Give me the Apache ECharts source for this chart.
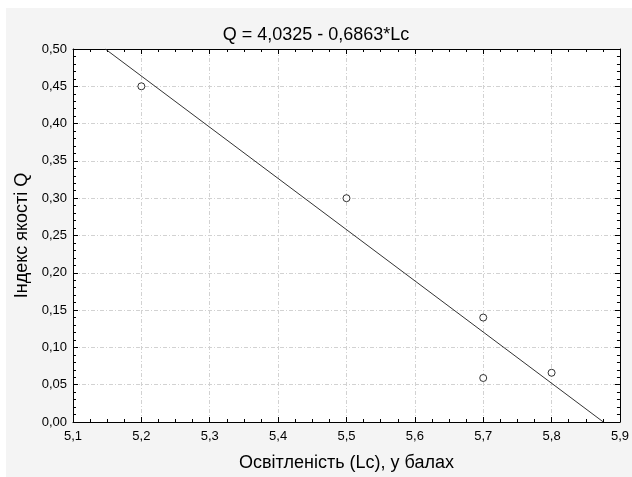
<!DOCTYPE html>
<html>
<head>
<meta charset="utf-8">
<script src="https://cdn.jsdelivr.net/npm/echarts@6/dist/echarts.min.js"></script>
<style>
html,body{margin:0;padding:0;background:#fff;}
#c{width:632px;height:477px;}
</style>
</head>
<body>
<div id="c"></div>
<script>
// Data
const titleText = "Q = 4,0325 - 0,6863*Lc";
const xName = "Освітленість (Lc), у балах";
const yName = "Індекс якості Q";
const lcValues = [5.2, 5.5, 5.7, 5.7, 5.8];
const qValues = [0.45, 0.30, 0.14, 0.059, 0.066];
// regression line endpoints (where Q = 4,0325 - 0,6863*Lc meets the plot frame)
const fitLc = [5.1472, 5.8757];
const fitQ = [0.50, 0.00];

const points = lcValues.map((x, i) => [x, qValues[i]]);
const fitLine = fitLc.map((x, i) => [x, fitQ[i]]);

const font = "'Liberation Sans', Arial, sans-serif";
const chart = echarts.init(document.getElementById('c'));

const baseX = {
  type: 'value', min: 5.1, max: 5.9, interval: 0.1,
  axisLine: {show: true, onZero: false, lineStyle: {color: '#000', width: 1}},
  axisTick: {show: true, inside: true, length: 5, lineStyle: {color: '#000'}},
  minorTick: {show: true, splitNumber: 4, length: 3, lineStyle: {color: '#000'}},
  splitLine: {show: false},
  axisLabel: {show: false}
};
const baseY = {
  type: 'value', min: 0, max: 0.5, interval: 0.05,
  axisLine: {show: true, onZero: false, lineStyle: {color: '#000', width: 1}},
  axisTick: {show: true, inside: true, length: 5, lineStyle: {color: '#000'}},
  minorTick: {show: true, splitNumber: 5, length: 3, lineStyle: {color: '#000'}},
  splitLine: {show: false},
  axisLabel: {show: false}
};
const gridLine = {show: true, lineStyle: {color: '#d2d2d2', type: [4, 2, 1, 2], width: 1}};

chart.setOption({
  backgroundColor: '#fff',
  animation: false,
  textStyle: {fontFamily: font},
  graphic: {
    elements: [{
      type: 'rect', z: -100, silent: true,
      shape: {x: 6, y: 8, width: 626, height: 469},
      style: {fill: '#f4f4f4'}
    }]
  },
  title: {
    text: titleText, left: 'center', top: 21,
    textStyle: {fontFamily: font, fontSize: 18, fontWeight: 'normal', color: '#000'}
  },
  grid: {left: 73, right: 8, top: 49, bottom: 50, show: true, backgroundColor: '#fff', borderWidth: 0},
  xAxis: [
    Object.assign({}, baseX, {
      position: 'bottom',
      axisLabel: {show: true, fontFamily: font, fontSize: 13, color: '#000', margin: 8,
        formatter: v => v.toFixed(1).replace('.', ',')},
      splitLine: gridLine,
      name: xName, nameLocation: 'middle', nameGap: 32,
      nameTextStyle: {fontFamily: font, fontSize: 18, color: '#000'}
    }),
    Object.assign({}, baseX, {position: 'top'})
  ],
  yAxis: [
    Object.assign({}, baseY, {
      position: 'left',
      axisLabel: {show: true, fontFamily: font, fontSize: 13, color: '#000', margin: 6,
        formatter: v => v.toFixed(2).replace('.', ',')},
      splitLine: gridLine,
      name: yName, nameLocation: 'middle', nameGap: 42, nameRotate: 90,
      nameTextStyle: {fontFamily: font, fontSize: 18, color: '#000'}
    }),
    Object.assign({}, baseY, {position: 'right'})
  ],
  series: [
    {
      type: 'line', data: fitLine, xAxisIndex: 0, yAxisIndex: 0,
      symbol: 'none', lineStyle: {color: '#333', width: 1}, silent: true, z: 2
    },
    {
      type: 'scatter', data: points, xAxisIndex: 0, yAxisIndex: 0,
      symbol: 'circle', symbolSize: 7,
      itemStyle: {color: '#fff', borderColor: '#000', borderWidth: 1}, z: 3
    }
  ]
});
</script>
</body>
</html>
